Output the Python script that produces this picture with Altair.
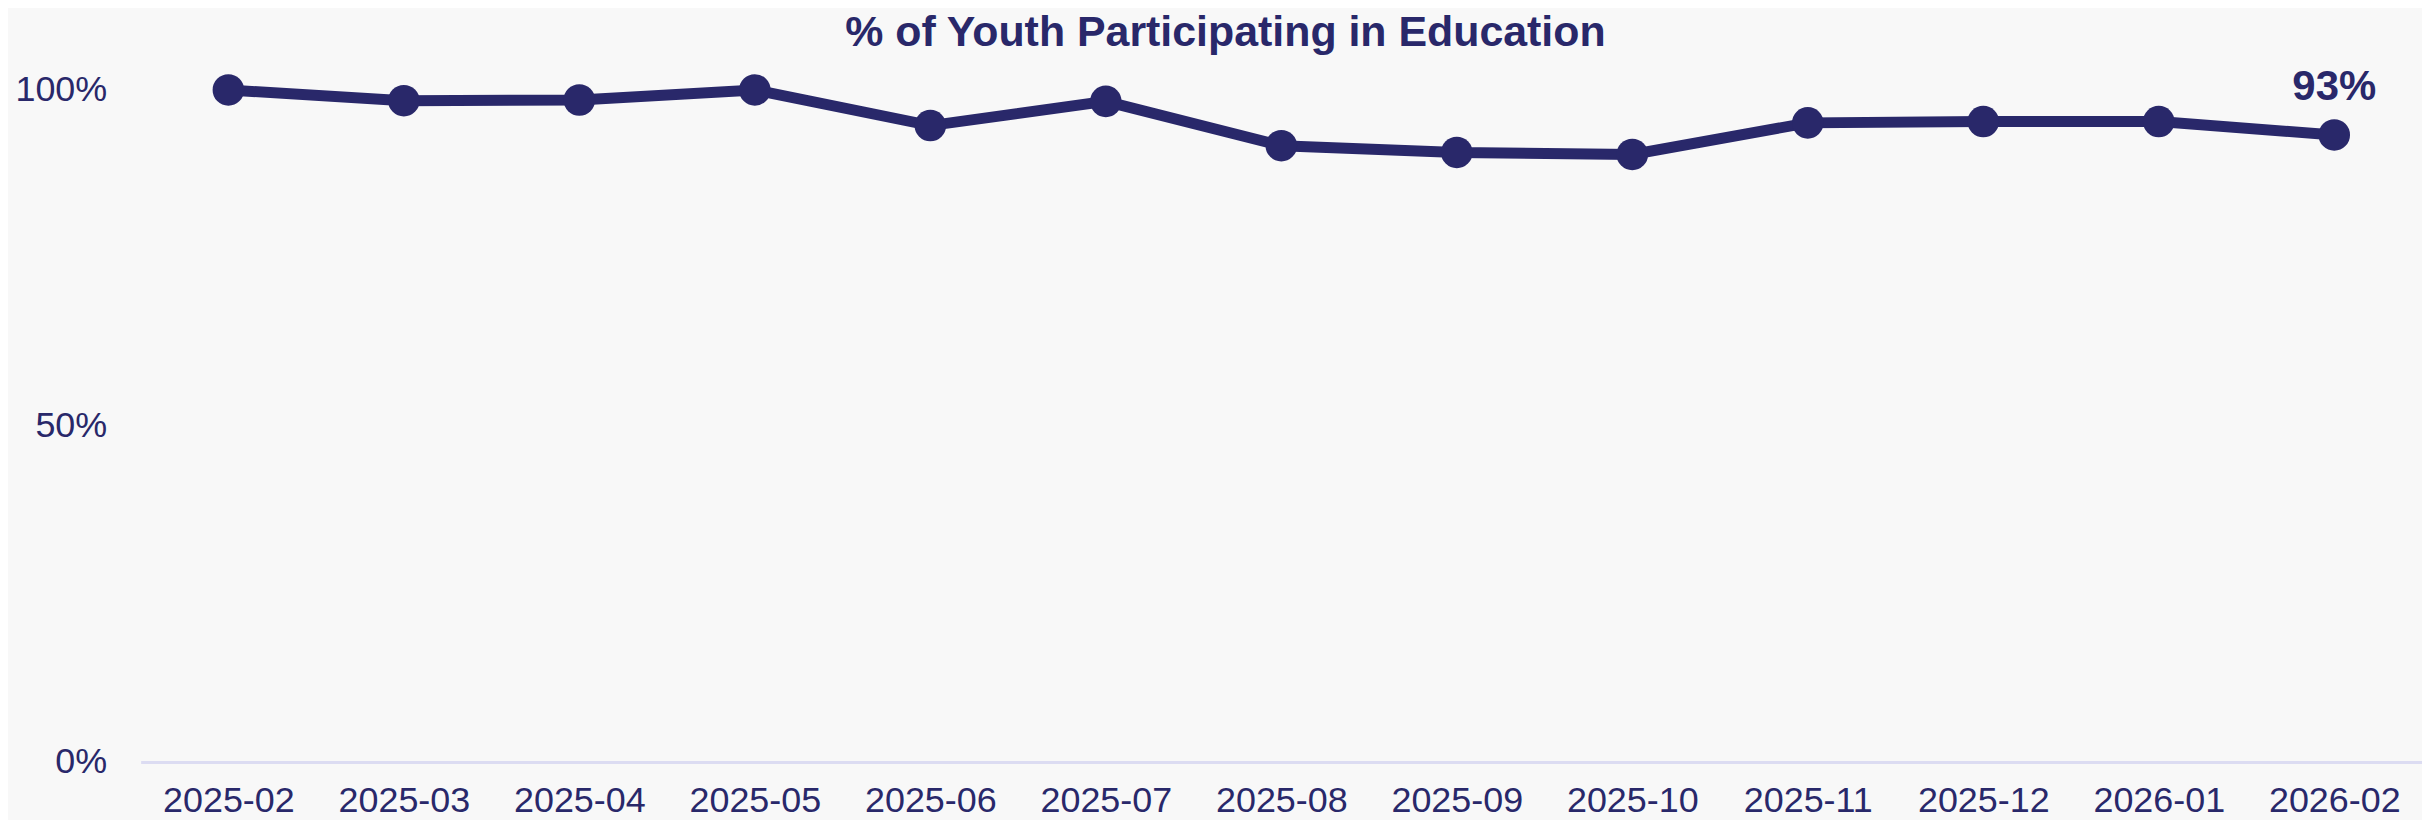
import altair as alt
import pandas as pd

months = ["2025-02", "2025-03", "2025-04", "2025-05", "2025-06", "2025-07",
          "2025-08", "2025-09", "2025-10", "2025-11", "2025-12", "2026-01", "2026-02"]
values = [1.000, 0.984, 0.985, 1.000, 0.947, 0.983, 0.917, 0.907, 0.904,
          0.951, 0.953, 0.953, 0.933]
last_label = ["93%"]

df = pd.DataFrame({"month": months, "value": values})
last = pd.DataFrame({"month": [months[-1]], "value": [values[-1]], "label": last_label})

navy = "#29286a"

x = alt.X("month:O", sort=months, scale=alt.Scale(type="point", padding=0.5),
          axis=alt.Axis(title=None, labelAngle=0, labelFontSize=36, labelColor=navy,
                        labelFont="Liberation Sans", labelPadding=22, ticks=False,
                        domainColor="#dcdcf2", domainWidth=3, grid=False))
y = alt.Y("value:Q", scale=alt.Scale(domain=[0, 1]),
          axis=alt.Axis(title=None, values=[0, 0.5, 1], format=".0%", labelFontSize=36,
                        labelColor=navy, labelFont="Liberation Sans", labelPadding=34,
                        ticks=False, domain=False, grid=False))

line = alt.Chart(df).mark_line(color=navy, strokeWidth=11).encode(x=x, y=y)
pts = alt.Chart(df).mark_circle(color=navy, size=1000, opacity=1).encode(x=x, y=y)
txt = alt.Chart(last).mark_text(color=navy, fontSize=42, fontWeight="bold",
                                font="Liberation Sans", dy=-35, baseline="alphabetic",
                                align="center").encode(x=x, y=y, text="label:N")

chart = (line + pts + txt).properties(
    width=2288, height=674,
    title=alt.TitleParams("% of Youth Participating in Education", fontSize=43,
                          fontWeight="bold", font="Liberation Sans", color=navy,
                          anchor="middle", frame="bounds", offset=11, dx=7),
    background="#f8f8f8",
    padding={"left": 6, "top": 3, "right": 0, "bottom": 0},
).configure_view(stroke=None)

chart.save("out.html", embed_options={"renderer": "svg", "actions": False})
